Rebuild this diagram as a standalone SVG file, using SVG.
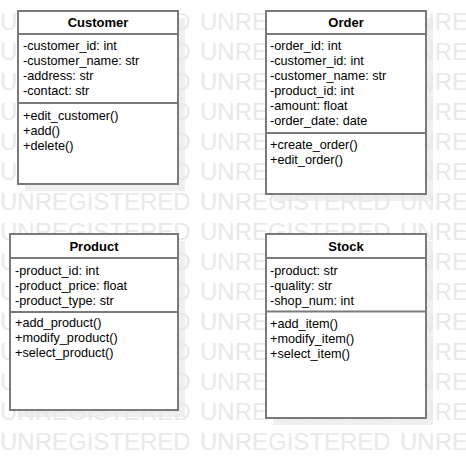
<svg xmlns="http://www.w3.org/2000/svg" width="466" height="458" viewBox="0 0 466 458">
<style>
.bg{fill:#ffffff}
.shadow{fill:#efefef}
.wm{font-family:"Liberation Sans",Arial,sans-serif;font-size:24px;fill:#e9e9e9}
.box{fill:#ffffff;stroke:#7a7a7a;stroke-width:2}
.ln{stroke:#7a7a7a;stroke-width:2}
.title{font-family:"Liberation Sans",Arial,sans-serif;font-size:13px;font-weight:bold;fill:#000000;text-anchor:middle}
.t{font-family:"Liberation Sans",Arial,sans-serif;font-size:12.7px;fill:#000000}
</style>
<rect class="bg" x="0" y="0" width="466" height="458"/>
<g id="shadows">
<rect class="shadow" x="25" y="18" width="160" height="173"/>
<rect class="shadow" x="273" y="18" width="160" height="183"/>
<rect class="shadow" x="17" y="241" width="168" height="176"/>
<rect class="shadow" x="273" y="241" width="160" height="184"/>
</g>
<g id="watermark">
<text class="wm" y="30"><tspan x="0">UNREGISTERED</tspan><tspan x="200">UNREGISTERED</tspan><tspan x="400">UNREGISTERED</tspan></text>
<text class="wm" y="60"><tspan x="0">UNREGISTERED</tspan><tspan x="200">UNREGISTERED</tspan><tspan x="400">UNREGISTERED</tspan></text>
<text class="wm" y="90"><tspan x="0">UNREGISTERED</tspan><tspan x="200">UNREGISTERED</tspan><tspan x="400">UNREGISTERED</tspan></text>
<text class="wm" y="120"><tspan x="0">UNREGISTERED</tspan><tspan x="200">UNREGISTERED</tspan><tspan x="400">UNREGISTERED</tspan></text>
<text class="wm" y="150"><tspan x="0">UNREGISTERED</tspan><tspan x="200">UNREGISTERED</tspan><tspan x="400">UNREGISTERED</tspan></text>
<text class="wm" y="180"><tspan x="0">UNREGISTERED</tspan><tspan x="200">UNREGISTERED</tspan><tspan x="400">UNREGISTERED</tspan></text>
<text class="wm" y="210"><tspan x="0">UNREGISTERED</tspan><tspan x="200">UNREGISTERED</tspan><tspan x="400">UNREGISTERED</tspan></text>
<text class="wm" y="240"><tspan x="0">UNREGISTERED</tspan><tspan x="200">UNREGISTERED</tspan><tspan x="400">UNREGISTERED</tspan></text>
<text class="wm" y="270"><tspan x="0">UNREGISTERED</tspan><tspan x="200">UNREGISTERED</tspan><tspan x="400">UNREGISTERED</tspan></text>
<text class="wm" y="300"><tspan x="0">UNREGISTERED</tspan><tspan x="200">UNREGISTERED</tspan><tspan x="400">UNREGISTERED</tspan></text>
<text class="wm" y="330"><tspan x="0">UNREGISTERED</tspan><tspan x="200">UNREGISTERED</tspan><tspan x="400">UNREGISTERED</tspan></text>
<text class="wm" y="360"><tspan x="0">UNREGISTERED</tspan><tspan x="200">UNREGISTERED</tspan><tspan x="400">UNREGISTERED</tspan></text>
<text class="wm" y="390"><tspan x="0">UNREGISTERED</tspan><tspan x="200">UNREGISTERED</tspan><tspan x="400">UNREGISTERED</tspan></text>
<text class="wm" y="420"><tspan x="0">UNREGISTERED</tspan><tspan x="200">UNREGISTERED</tspan><tspan x="400">UNREGISTERED</tspan></text>
<text class="wm" y="450"><tspan x="0">UNREGISTERED</tspan><tspan x="200">UNREGISTERED</tspan><tspan x="400">UNREGISTERED</tspan></text>
</g>
<g id="connectors"></g>
<g id="customer">
<rect class="box" x="18" y="11" width="160" height="173"/>
<line class="ln" x1="18" y1="34" x2="178" y2="34"/>
<line class="ln" x1="18" y1="103" x2="178" y2="103"/>
<text class="title" x="98" y="27">Customer</text>
<text class="t" x="23" y="49.5">-customer_id: int</text>
<text class="t" x="23" y="64.5">-customer_name: str</text>
<text class="t" x="23" y="79.5">-address: str</text>
<text class="t" x="23" y="94.5">-contact: str</text>
<text class="t" x="23" y="119.5">+edit_customer()</text>
<text class="t" x="23" y="134.5">+add()</text>
<text class="t" x="23" y="149.5">+delete()</text>
</g>
<g id="order">
<rect class="box" x="266" y="11" width="160" height="183"/>
<line class="ln" x1="266" y1="34" x2="426" y2="34"/>
<line class="ln" x1="266" y1="133" x2="426" y2="133"/>
<text class="title" x="346" y="27">Order</text>
<text class="t" x="270" y="49.5">-order_id: int</text>
<text class="t" x="270" y="64.5">-customer_id: int</text>
<text class="t" x="270" y="79.5">-customer_name: str</text>
<text class="t" x="270" y="94.5">-product_id: int</text>
<text class="t" x="270" y="109.5">-amount: float</text>
<text class="t" x="270" y="124.5">-order_date: date</text>
<text class="t" x="270" y="148.5">+create_order()</text>
<text class="t" x="270" y="163.5">+edit_order()</text>
</g>
<g id="product">
<rect class="box" x="10" y="234" width="168" height="176"/>
<line class="ln" x1="10" y1="258" x2="178" y2="258"/>
<line class="ln" x1="10" y1="312" x2="178" y2="312"/>
<text class="title" x="94" y="251">Product</text>
<text class="t" x="15" y="274.5">-product_id: int</text>
<text class="t" x="15" y="289.5">-product_price: float</text>
<text class="t" x="15" y="304.5">-product_type: str</text>
<text class="t" x="15" y="327">+add_product()</text>
<text class="t" x="15" y="342">+modify_product()</text>
<text class="t" x="15" y="357">+select_product()</text>
</g>
<g id="stock">
<rect class="box" x="266" y="234" width="160" height="184"/>
<line class="ln" x1="266" y1="258" x2="426" y2="258"/>
<line class="ln" x1="266" y1="311.5" x2="426" y2="311.5"/>
<text class="title" x="346" y="251">Stock</text>
<text class="t" x="270" y="275">-product: str</text>
<text class="t" x="270" y="290">-quality: str</text>
<text class="t" x="270" y="305">-shop_num: int</text>
<text class="t" x="270" y="328">+add_item()</text>
<text class="t" x="270" y="343">+modify_item()</text>
<text class="t" x="270" y="358">+select_item()</text>
</g>
</svg>
